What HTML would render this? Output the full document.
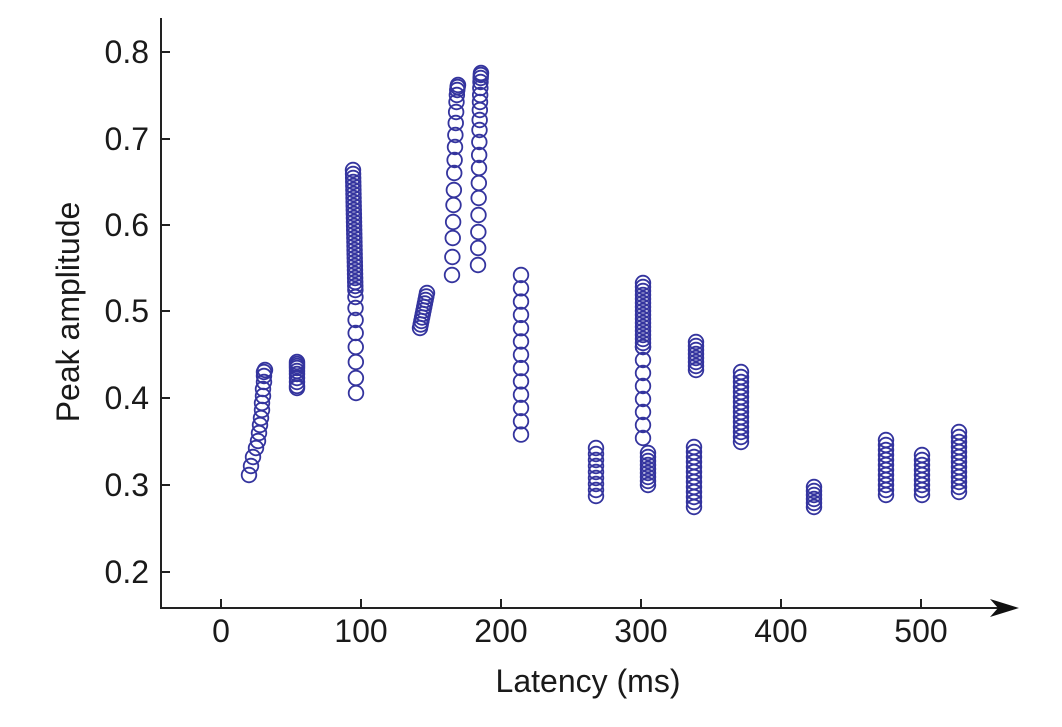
<!DOCTYPE html>
<html><head><meta charset="utf-8"><style>
html,body{margin:0;padding:0;background:#fff}
svg{display:block}
text{font-family:"Liberation Sans",sans-serif;fill:#1a1a1a}
</style></head><body>
<svg id="s" width="1062" height="727" viewBox="0 0 1062 727" xmlns="http://www.w3.org/2000/svg">
<g stroke="#222" stroke-width="2" fill="none">
<line x1="161" y1="18" x2="161" y2="609"/>
<line x1="160" y1="608" x2="1000" y2="608"/>
<line x1="161" y1="52" x2="170" y2="52"/>
<line x1="161" y1="139" x2="170" y2="139"/>
<line x1="161" y1="225" x2="170" y2="225"/>
<line x1="161" y1="311" x2="170" y2="311"/>
<line x1="161" y1="398" x2="170" y2="398"/>
<line x1="161" y1="485" x2="170" y2="485"/>
<line x1="161" y1="572" x2="170" y2="572"/>
<line x1="221" y1="608" x2="221" y2="599"/>
<line x1="361" y1="608" x2="361" y2="599"/>
<line x1="501" y1="608" x2="501" y2="599"/>
<line x1="641" y1="608" x2="641" y2="599"/>
<line x1="781" y1="608" x2="781" y2="599"/>
<line x1="921" y1="608" x2="921" y2="599"/>
</g>
<path d="M990 599 L1019 608 L990 617 L998 608 Z" fill="#111"/>
<g font-size="32" text-anchor="end">
<text x="149" y="63">0.8</text>
<text x="149" y="150">0.7</text>
<text x="149" y="236">0.6</text>
<text x="149" y="322">0.5</text>
<text x="149" y="409">0.4</text>
<text x="149" y="496">0.3</text>
<text x="149" y="583">0.2</text>
</g>
<g font-size="32" text-anchor="middle">
<text x="221" y="642">0</text>
<text x="361" y="642">100</text>
<text x="501" y="642">200</text>
<text x="641" y="642">300</text>
<text x="781" y="642">400</text>
<text x="921" y="642">500</text>
<text x="588" y="692">Latency (ms)</text>
<text transform="translate(79,312) rotate(-90)">Peak amplitude</text>
</g>
<g id="pts" fill="none" stroke="#34349e" stroke-width="1.8"></g>
</svg>
<script>
var g=document.getElementById('pts'),NS='http://www.w3.org/2000/svg';
function c(x,y){var e=document.createElementNS(NS,'circle');e.setAttribute('cx',x);e.setAttribute('cy',y);e.setAttribute('r',7.3);g.appendChild(e);}
function col(x1,x2,ys){for(var i=0;i<ys.length;i++){var t=ys.length>1?i/(ys.length-1):0;c(x1+(x2-x1)*t,ys[i]);}}
function rng(a,b,st){var r=[];if(a<b){for(var y=a;y<=b+0.01;y+=st)r.push(y);}return r;}
[[249,475],[251,466],[253,457],[256,448],[258,441],[259,433],[260,425],[261,418],[262,410],[262,403],[263,396],[263,389],[264,382],[264,376],[264,372],[265,370]].forEach(function(p){c(p[0],p[1]);});
col(297,297,[388,386,382,378,374,371,368,366,364,362]);
col(356,353,[393,378,362,347,333,320,308,297].concat(rng(170,290,4).reverse()));
col(420,427,rng(293,328,3.5).reverse());
col(452,458,[275,257,238,222,205,190,173,160,147,135,123,112,102,95,90,87,85]);
col(478,481,[265,248,232,215,198,183,168,155,142,130,120,110,102,95,88,82,78,75,73]);
col(521,521,rng(275,435,13.3));
col(596,596,rng(448,500,6));
col(643,643,rng(347,438,13).concat(rng(283,347,4)));
col(648,648,rng(453,488,4));
col(694,694,rng(447,507,5));
col(696,696,rng(342,370,4));
col(741,741,rng(372,442,5));
col(814,814,rng(487,508,4));
col(886,886,rng(440,495,5));
col(922,922,rng(455,498,5));
col(959,959,rng(432,495,5));
</script>
</body></html>
